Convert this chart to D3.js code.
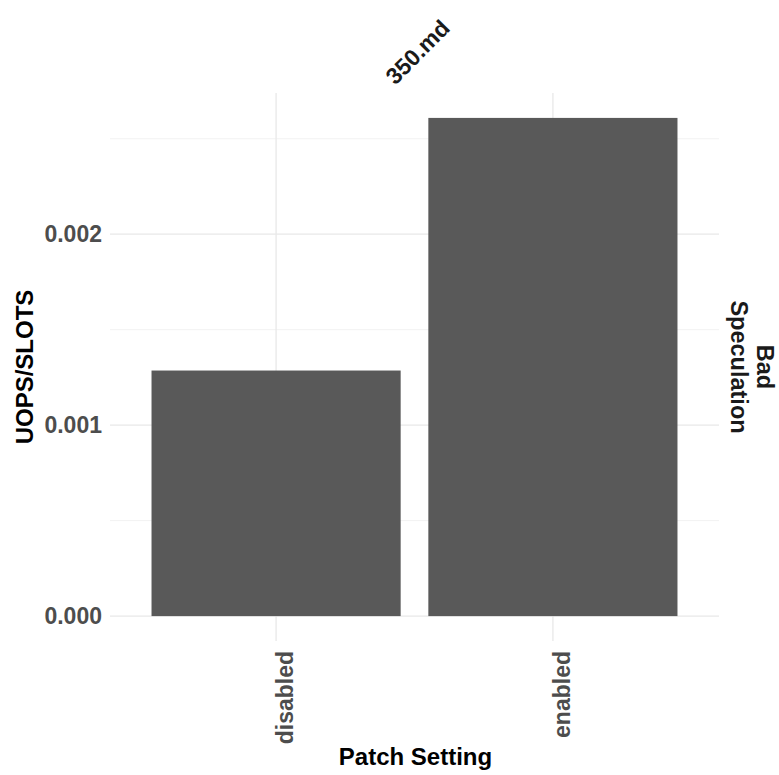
<!DOCTYPE html>
<html><head><meta charset="utf-8">
<script src="https://cdn.jsdelivr.net/npm/d3@7"></script>
<style>body{margin:0;background:#fff}</style>
</head><body>
<svg id="c" width="779" height="775"></svg>
<script>
const categories = ["disabled", "enabled"];
const values = [0.001286, 0.002609];
const yTicks = [0, 0.001, 0.002];
const yMinor = [0.0005, 0.0015, 0.0025];
const facetTop = "350.md";
const facetRight = ["Bad", "Speculation"];
const xTitle = "Patch Setting";
const yTitle = "UOPS/SLOTS";

const svg = d3.select("#c");
const font = "'Liberation Sans', Arial, Helvetica, sans-serif";
const L = 110, R = 719, T = 93, B = 641;
const maxV = d3.max(values);
const y = d3.scaleLinear().domain([-0.05 * maxV, 1.05 * maxV]).range([B, T]);
// ggplot discrete: 0.6 expansion each side
const step = (R - L) / (categories.length - 1 + 1.2);
const xc = d3.scalePoint().domain(categories).range([L + 0.6 * step, R - 0.6 * step]);
const barW = step * 0.9;

const g = svg.append("g");
// minor grid
g.selectAll("line.ymin").data(yMinor).join("line")
  .attr("x1", L).attr("x2", R).attr("y1", d => y(d)).attr("y2", d => y(d))
  .attr("stroke", "#f2f2f2").attr("stroke-width", 1);
// major grid
g.selectAll("line.ymaj").data(yTicks).join("line")
  .attr("x1", L).attr("x2", R).attr("y1", d => y(d)).attr("y2", d => y(d))
  .attr("stroke", "#e8e8e8").attr("stroke-width", 1.3);
g.selectAll("line.xmaj").data(categories).join("line")
  .attr("x1", d => xc(d)).attr("x2", d => xc(d)).attr("y1", T).attr("y2", B)
  .attr("stroke", "#e8e8e8").attr("stroke-width", 1.3);
// bars
g.selectAll("rect.bar").data(categories).join("rect")
  .attr("x", d => xc(d) - barW / 2).attr("width", barW)
  .attr("y", (d, i) => y(values[i])).attr("height", (d, i) => y(0) - y(values[i]))
  .attr("fill", "#595959");
// y tick labels
g.selectAll("text.yt").data(yTicks).join("text")
  .attr("x", 102).attr("y", d => y(d)).attr("dy", "0.36em")
  .attr("text-anchor", "end").attr("font-family", font).attr("font-weight", "bold")
  .attr("font-size", 23).attr("fill", "#4d4d4d").text(d3.format(".3f"));
// x tick labels
g.selectAll("text.xt").data(categories).join("text")
  .attr("transform", d => `translate(${xc(d) + 17},651) rotate(-90)`)
  .attr("text-anchor", "end").attr("font-family", font).attr("font-weight", "bold")
  .attr("font-size", 23).attr("fill", "#4d4d4d").text(d => d);
// axis titles
svg.append("text").attr("x", (L + R) / 2 + 1).attr("y", 765).attr("text-anchor", "middle")
  .attr("font-family", font).attr("font-weight", "bold").attr("font-size", 24).attr("fill", "#000")
  .text(xTitle);
svg.append("text").attr("transform", `translate(33,${(T + B) / 2}) rotate(-90)`).attr("text-anchor", "middle")
  .attr("font-family", font).attr("font-weight", "bold").attr("font-size", 24).attr("fill", "#000")
  .text(yTitle);
// top strip
svg.append("text").attr("transform", `translate(${(L + R) / 2 + 3},${52}) rotate(-45)`).attr("text-anchor", "middle")
  .attr("dy", "0.35em")
  .attr("font-family", font).attr("font-weight", "bold").attr("font-size", 23).attr("fill", "#1a1a1a")
  .text(facetTop);
// right strip
const rs = [757, 731];
facetRight.forEach((t, i) => {
  svg.append("text").attr("transform", `translate(${rs[i]},${(T + B) / 2}) rotate(90)`).attr("text-anchor", "middle")
    .attr("font-family", font).attr("font-weight", "bold").attr("font-size", 23.5).attr("fill", "#1a1a1a")
    .text(t);
});
</script>
</body></html>
